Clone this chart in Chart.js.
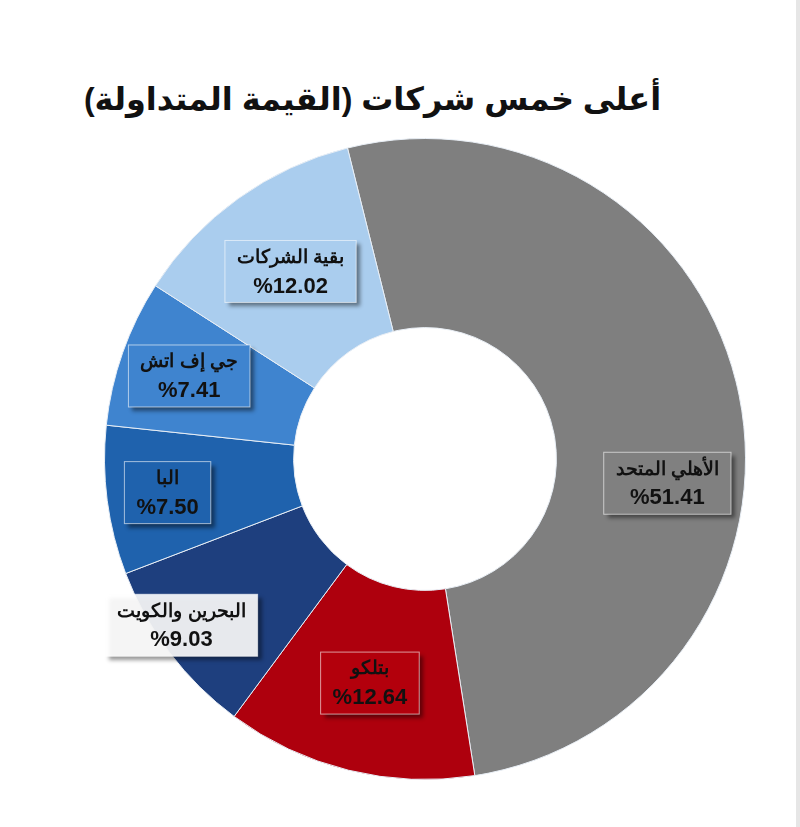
<!DOCTYPE html>
<html><head><meta charset="utf-8">
<script src="https://cdn.jsdelivr.net/npm/chart.js@4/dist/chart.umd.min.js"></script>
<style>
body{margin:0;background:#fff;font-family:"DejaVu Sans",Arial,sans-serif;}
#wrap{position:relative;width:800px;height:827px;border-right:4px solid #e6e6e6;box-sizing:border-box;}
h1{position:absolute;top:80px;left:0;width:745px;text-align:center;margin:0;font-size:32px;font-weight:bold;color:#111;direction:rtl;font-family:"Liberation Sans","DejaVu Sans",sans-serif;}
#c{position:absolute;left:0;top:120px;}
</style></head><body>
<div id="wrap"><h1>أعلى خمس شركات (القيمة المتداولة)</h1><canvas id="c" width="800" height="700"></canvas></div>
<script>
const labels = ['الأهلي المتحد','بتلكو','البحرين والكويت','البا','جي إف اتش','بقية الشركات'];
const values = [51.41, 12.64, 9.03, 7.50, 7.41, 12.02];
const colors = ['#7f7f7f','#ae000d','#1e3f7e','#1f62ad','#3f84cf','#aacdee'];
const boxColors = ['#808080','#b3000c','rgba(255,255,255,0.9)','#1f62ad','#3f84cf','#aacdee'];

// label placement: fraction of radius, extra angle offset (rad)
const labelPlace = [0.76, 0.72, 0.92, 0.81, 0.78, 0.72];
const labelTurn = [0.3, 0, 0.05, 0, 0, 0];

const boxLabels = {
  id: 'boxLabels',
  afterDatasetsDraw(chart) {
    const ctx = chart.ctx;
    chart.getDatasetMeta(0).data.forEach((arc, i) => {
      const mid = (arc.startAngle + arc.endAngle) / 2 + labelTurn[i];
      const r = arc.outerRadius * labelPlace[i];
      const x = arc.x + Math.cos(mid) * r, y = arc.y + Math.sin(mid) * r;
      ctx.save();
      const l1 = labels[i], l2 = '%' + values[i].toFixed(2);
      ctx.font = 'bold 22px "Liberation Sans", Arial';
      const w2 = ctx.measureText(l2).width;
      ctx.font = 'bold 19px "Liberation Sans", Arial';
      const w = Math.max(ctx.measureText(l1).width, w2) + 24, h = 62;
      ctx.shadowColor = 'rgba(0,0,0,0.45)'; ctx.shadowOffsetX = 4; ctx.shadowOffsetY = 4; ctx.shadowBlur = 4;
      ctx.fillStyle = boxColors[i];
      ctx.fillRect(x - w / 2, y - h / 2, w, h);
      ctx.shadowColor = 'transparent';
      ctx.strokeStyle = 'rgba(255,255,255,0.6)'; ctx.lineWidth = 1;
      ctx.strokeRect(x - w / 2, y - h / 2, w, h);
      ctx.fillStyle = '#111'; ctx.textAlign = 'center'; ctx.textBaseline = 'middle';
      ctx.direction = 'rtl';
      ctx.fillText(l1, x, y - 14);
      ctx.font = 'bold 22px "Liberation Sans", Arial';
      ctx.direction = 'ltr';
      ctx.fillText(l2, x, y + 15);
      ctx.restore();
    });
  }
};

new Chart(document.getElementById('c'), {
  type: 'doughnut',
  data: { labels, datasets: [{ data: values, backgroundColor: colors, borderColor: '#e8eef5', borderWidth: 1 }] },
  options: {
    responsive: false, animation: false, rotation: -14, cutout: '41%',
    layout: { padding: { left: 95, right: 45, top: 18, bottom: 40 } },
    plugins: { legend: { display: false }, tooltip: { enabled: false } }
  },
  plugins: [boxLabels]
});
</script></body></html>
